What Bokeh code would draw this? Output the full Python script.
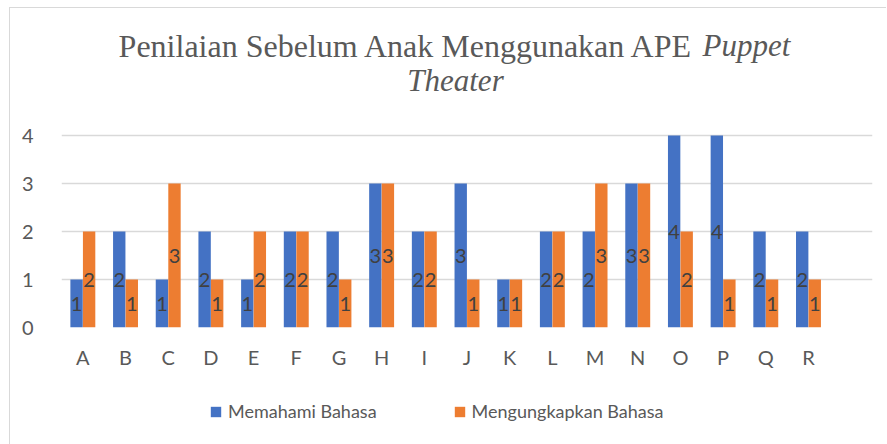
from bokeh.plotting import figure
from bokeh.layouts import column
from bokeh.models import ColumnDataSource, FactorRange, Label, Legend, LegendItem, FixedTicker
from bokeh.transform import dodge
from bokeh.core.properties import value
from bokeh.embed import file_html
from bokeh.resources import INLINE

categories = ["A", "B", "C", "D", "E", "F", "G", "H", "I", "J", "K", "L", "M", "N", "O", "P", "Q", "R"]
memahami = [1, 2, 1, 2, 1, 2, 2, 3, 2, 3, 1, 2, 2, 3, 4, 4, 2, 2]
mengungkapkan = [2, 1, 3, 1, 2, 2, 1, 3, 2, 1, 1, 2, 3, 3, 2, 1, 1, 1]
series_names = ["Memahami Bahasa", "Mengungkapkan Bahasa"]
y_ticks = [0, 1, 2, 3, 4]

BLUE = "#4472C4"
ORANGE = "#ED7D31"
GREY = "#595959"
FONT = "Lato"

factors = categories + [" "]

src = ColumnDataSource(dict(
    cat=categories,
    m=memahami,
    k=mengungkapkan,
    m_half=[v / 2 for v in memahami],
    k_half=[v / 2 for v in mengungkapkan],
    m_txt=[str(v) for v in memahami],
    k_txt=[str(v) for v in mengungkapkan],
))

# frame extends above the top gridline so the title can live inside it
p = figure(frame_width=811, frame_height=319, x_range=FactorRange(*factors, range_padding=0),
           y_range=(0, 319 / 48), output_backend="svg", toolbar_location=None,
           min_border_left=51, min_border_right=14, min_border_top=0, min_border_bottom=55)
p.outline_line_color = None

bw = 0.29
off = 0.147
p.vbar(x=dodge("cat", -off, range=p.x_range), top="m", width=bw, source=src,
       fill_color=BLUE, line_color=None)
p.vbar(x=dodge("cat", off, range=p.x_range), top="k", width=bw, source=src,
       fill_color=ORANGE, line_color=None)

p.text(x=dodge("cat", -off, range=p.x_range), y="m_half", text="m_txt", source=src,
       text_font=value(FONT), text_font_size="20px", text_color="#404040",
       text_align="center", text_baseline="middle")
p.text(x=dodge("cat", off, range=p.x_range), y="k_half", text="k_txt", source=src,
       text_font=value(FONT), text_font_size="20px", text_color="#404040",
       text_align="center", text_baseline="middle")

# grid
p.xgrid.grid_line_color = None
p.ygrid.grid_line_color = "#d9d9d9"
p.ygrid.grid_line_width = 1.5
p.yaxis.ticker = FixedTicker(ticks=y_ticks)

for ax in (p.xaxis, p.yaxis):
    ax.axis_line_color = None
    ax.major_tick_line_color = None
    ax.minor_tick_line_color = None
    ax.major_label_text_font = FONT
    ax.major_label_text_font_size = "20px"
    ax.major_label_text_color = GREY
p.xaxis.major_label_standoff = 11
p.yaxis.major_label_standoff = 22

# title
t1 = Label(x=14.83, y=5.875, text="Penilaian Sebelum Anak Menggunakan APE", text_align="right",
           text_baseline="alphabetic", text_font="Liberation Serif", text_font_size="32px",
           text_color=GREY)
t2 = Label(x=15.02, y=5.875, text="Puppet", text_align="left", text_baseline="alphabetic",
           text_font="Liberation Serif", text_font_style="italic", text_font_size="31px",
           text_color=GREY)
t3 = Label(x=9.23, y=5.146, text="Theater", text_align="center", text_baseline="alphabetic",
           text_font="Liberation Serif", text_font_style="italic", text_font_size="31px",
           text_color=GREY)
for t in (t1, t2, t3):
    p.add_layout(t)

# legend strip below the chart (its renderers use the same series but lie outside its view)
lg = figure(frame_width=876, frame_height=62, x_range=(0, 1), y_range=(10, 11),
            x_axis_type=None, y_axis_type=None, output_backend="svg", toolbar_location=None,
            min_border_left=0, min_border_right=0, min_border_top=0, min_border_bottom=0)
lg.outline_line_color = None
lg.grid.grid_line_color = None
d1 = lg.quad(left="m_half", right="m", bottom="m_half", top="m", source=src,
             fill_color=BLUE, line_color=None)
d2 = lg.quad(left="k_half", right="k", bottom="k_half", top="k", source=src,
             fill_color=ORANGE, line_color=None)
legend = Legend(items=[LegendItem(label=series_names[0], renderers=[d1]),
                       LegendItem(label=series_names[1], renderers=[d2])],
                orientation="horizontal", location=(199, 22),
                label_text_font=FONT, label_text_font_size="18px", label_text_color=GREY,
                glyph_width=13, glyph_height=13, label_standoff=6, spacing=76,
                padding=0, margin=0,
                border_line_color=None, background_fill_alpha=0)
lg.add_layout(legend)

layout = column(p, lg, spacing=0)
layout.styles = {"border-top": "1px solid #d9d9d9", "border-left": "1px solid #d9d9d9",
                 "margin-left": "9px", "margin-top": "7px"}

open("out.html", "w").write(file_html(layout, INLINE))
